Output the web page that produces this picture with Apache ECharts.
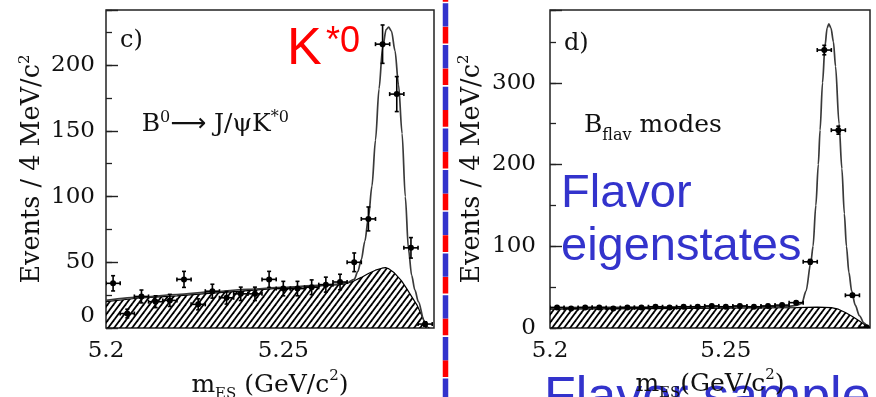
<!DOCTYPE html>
<html><head><meta charset="utf-8">
<script src="https://cdn.jsdelivr.net/npm/echarts@6/dist/echarts.min.js"></script>
<style>html,body{margin:0;padding:0;background:#fff}#c{width:876px;height:397px}</style>
</head><body><div id="c"></div><script>
// ---- data ----
const binCenters = [5.202,5.206,5.210,5.214,5.218,5.222,5.226,5.230,5.234,5.238,5.242,5.246,5.250,5.254,5.258,5.262,5.266,5.270,5.274,5.278,5.282,5.286,5.290];
const cCounts = [34,11,24,20,21,37,18,28,23,26,26,37,30,30,31,33,35,50,83,216,178,61,3];
const cErrors = [5.8,3.3,4.9,4.5,4.6,6.1,4.2,5.3,4.8,5.1,5.1,6.1,5.5,5.5,5.6,5.7,5.9,7.1,9.1,14.6,13.3,7.8,1.7];
const dCounts = [25,24,25,25,24,25,25,26,25,26,26,27,26,27,26,27,28,31,81,340,242,40,1];
const dErrors = [1.6,1.6,1.6,1.6,1.6,1.6,1.6,1.6,1.6,1.6,1.6,1.6,1.6,1.6,1.6,1.6,1.7,1.8,2.8,5.8,4.9,2.0,0.3];
const cFit = [[5.200,21],[5.210,23.5],[5.220,25.5],[5.230,27.5],[5.240,29.5],[5.250,31],[5.260,32.5],[5.266,33.5],[5.268,34.5],[5.270,37],[5.271,43],[5.272,52],[5.273,66],[5.274,84],[5.275,108],[5.276,143],[5.277,182],[5.278,213],[5.279,227],[5.2797,229],[5.2805,226],[5.2815,211],[5.2825,185],[5.2835,148],[5.2844,100],[5.2853,60],[5.2862,40],[5.2871,29],[5.2881,20],[5.2897,5.5],[5.2907,0]];
const cBackground = [[5.200,20],[5.205,21.5],[5.210,23],[5.220,24.5],[5.230,26.5],[5.240,28.5],[5.250,30.5],[5.260,32],[5.266,33],[5.268,34],[5.270,36],[5.272,38.5],[5.274,41.5],[5.276,44],[5.2778,45.5],[5.2788,46],[5.2798,45],[5.2813,42],[5.2833,36],[5.2848,30],[5.2863,23.5],[5.2878,17],[5.2893,8],[5.2905,1],[5.2912,0]];
const dFit = [[5.200,25],[5.230,25.5],[5.260,26],[5.268,26.5],[5.270,27.5],[5.2716,30],[5.2728,45],[5.2742,81],[5.2748,100],[5.2756,150],[5.2763,200],[5.2768,242],[5.2775,300],[5.2782,345],[5.2788,367],[5.2793,372],[5.2799,367],[5.2806,350],[5.2812,320],[5.2822,250],[5.2830,195],[5.2837,140],[5.2843,100],[5.2850,68],[5.2858,45],[5.2868,28],[5.2880,15],[5.2893,6],[5.2904,0]];
const dBackground = [[5.200,23],[5.240,24],[5.270,25],[5.276,25.5],[5.280,25],[5.282,23],[5.284,19],[5.286,14],[5.288,8.5],[5.2895,4],[5.2905,0]];
const xMin = 5.2, xStep = 0.05, cXMax = 5.2925, dXMax = 5.291;
const cYMax = 242, cYStep = 50, cYMinor = 25;
const dYMax = 389, dYStep = 100, dYMinor = 50;

const SERIF = 'DejaVu Serif', SANS = 'Liberation Sans';
const INK = '#111';

function hatch(){
  const w=6,h=8; const cv=document.createElement('canvas'); cv.width=w; cv.height=h;
  const g=cv.getContext('2d'); g.strokeStyle='#000'; g.lineWidth=1.8;
  for(const o of [-w,0,w]){ g.beginPath(); g.moveTo(o-w,2*h); g.lineTo(o+2*w,-h); g.stroke(); }
  return cv;
}
const hatchImg = hatch();

function pts(counts, errs){ return binCenters.map((x,i)=>[x,counts[i],errs[i]]); }
function renderErr(params, api){
  const x=api.value(0), y=api.value(1), e=api.value(2), hw=0.002;
  const p=api.coord([x,y]), l=api.coord([x-hw,y]), r=api.coord([x+hw,y]);
  const t=api.coord([x,y+e]), b=api.coord([x,y-e]);
  const st={stroke:'#000', lineWidth:1.6}; const cap=2;
  return {type:'group', children:[
    {type:'line', shape:{x1:l[0],y1:p[1],x2:r[0],y2:p[1]}, style:st},
    {type:'line', shape:{x1:l[0],y1:p[1]-cap,x2:l[0],y2:p[1]+cap}, style:st},
    {type:'line', shape:{x1:r[0],y1:p[1]-cap,x2:r[0],y2:p[1]+cap}, style:st},
    {type:'line', shape:{x1:p[0],y1:t[1],x2:p[0],y2:b[1]}, style:st},
    {type:'line', shape:{x1:p[0]-cap,y1:t[1],x2:p[0]+cap,y2:t[1]}, style:st},
    {type:'line', shape:{x1:p[0]-cap,y1:b[1],x2:p[0]+cap,y2:b[1]}, style:st},
    {type:'circle', shape:{cx:p[0],cy:p[1],r:3}, style:{fill:'#000'}}
  ]};
}

const supRich = {s:{fontFamily:SERIF,fontSize:15,verticalAlign:'top',lineHeight:15,color:INK},
                 b:{fontFamily:SERIF,fontSize:15,verticalAlign:'bottom',lineHeight:15,color:INK}};
function xAxis(grid, max, gap, name){
  return {gridIndex:grid, type:'value', min:xMin, max:max, interval:xStep,
    axisLine:{show:false}, axisTick:{show:false}, splitLine:{show:false},
    axisLabel:{fontFamily:SERIF, fontSize:23, color:INK, margin:12,
      formatter:v=>Math.abs(v/xStep-Math.round(v/xStep))<1e-6?String(Math.round(v*100)/100):''},
    name:name, nameLocation:'middle', nameGap:gap,
    nameTextStyle:{fontFamily:SERIF, fontSize:25, color:INK, lineHeight:33, rich:supRich}};
}
function yAxis(grid, max, step, margin, gap, minAlign){
  return {gridIndex:grid, type:'value', min:0, max:max, interval:step,
    axisLine:{show:false}, splitLine:{show:false},
    axisTick:{inside:true, length:12, lineStyle:{color:'#222', width:1.4}},
    axisLabel:{fontFamily:SERIF, fontSize:23, color:INK, margin:margin, verticalAlignMinLabel:minAlign,
      formatter:v=>Math.abs(v/step-Math.round(v/step))<1e-6?String(v):''},
    name:'Events / 4 MeV/c{s|2}', nameLocation:'middle', nameRotate:90, nameGap:gap,
    nameTextStyle:{fontFamily:SERIF, fontSize:25.5, color:INK, lineHeight:30, rich:supRich}};
}
function yMinor(grid, max, step){
  return {gridIndex:grid, type:'value', min:0, max:max, interval:step, position:'left',
    axisLine:{show:false}, splitLine:{show:false}, axisLabel:{show:false},
    axisTick:{inside:true, length:6, lineStyle:{color:'#222', width:1.3}}};
}

const chart = echarts.init(document.getElementById('c'), null, {renderer:'canvas'});
chart.setOption({
  animation:false, backgroundColor:'#fff',
  grid:[
    {left:106, top:10, width:328, height:318, show:true, borderColor:'#222', borderWidth:1.5, outerBoundsMode:'none', containLabel:false},
    {left:550, top:10, width:320, height:318, show:true, borderColor:'#222', borderWidth:1.5, outerBoundsMode:'none', containLabel:false}
  ],
  xAxis:[ xAxis(0, cXMax, 40.5, 'm{b|ES} (GeV/c{s|2})'), xAxis(1, dXMax, 37, 'm{b|ES}(GeV/c{s|2})') ],
  yAxis:[ yAxis(0, cYMax, cYStep, 11, 56, 'bottom'), yMinor(0, cYMax, cYMinor),
          yAxis(1, dYMax, dYStep, 14, 63, 'middle'), yMinor(1, dYMax, dYMinor) ],
  series:[
    {type:'line', xAxisIndex:0, yAxisIndex:0, data:cBackground, symbol:'none', z:1,
     lineStyle:{color:'#000', width:1.2}, areaStyle:{color:{image:hatchImg, repeat:'repeat'}, opacity:1}},
    {type:'line', xAxisIndex:0, yAxisIndex:0, data:cFit, symbol:'none', z:3, smooth:0.3, smoothMonotone:'x',
     lineStyle:{color:'#3a3a3a', width:1.7}},
    {type:'custom', xAxisIndex:0, yAxisIndex:0, data:pts(cCounts,cErrors), renderItem:renderErr, z:4, clip:true,
     encode:{x:0,y:1}},
    {type:'line', xAxisIndex:1, yAxisIndex:2, data:dBackground, symbol:'none', z:1,
     lineStyle:{color:'#000', width:1.2}, areaStyle:{color:{image:hatchImg, repeat:'repeat'}, opacity:1}},
    {type:'line', xAxisIndex:1, yAxisIndex:2, data:dFit, symbol:'none', z:3, smooth:0.3, smoothMonotone:'x',
     lineStyle:{color:'#3a3a3a', width:1.7}},
    {type:'custom', xAxisIndex:1, yAxisIndex:2, data:pts(dCounts,dErrors), renderItem:renderErr, z:4, clip:true,
     encode:{x:0,y:1}}
  ],
  graphic:[
    {type:'text', x:120, y:40.7, z:10, style:{text:'c)', fontFamily:SERIF, fontSize:24, fill:INK, verticalAlign:'middle'}},
    {type:'text', x:564, y:44, z:10, style:{text:'d)', fontFamily:SERIF, fontSize:24, fill:INK, verticalAlign:'middle'}},
    {type:'text', x:549, y:-5.6, z:10, style:{text:'x10', fontFamily:SERIF, fontSize:22, fill:INK, verticalAlign:'middle'}},
    {type:'text', x:141.7, y:109.4, z:10, style:{text:'{n|B}{s|0}{a|⟶}{n| J/ψK}{s|*0}', verticalAlign:'top',
      rich:{n:{fontFamily:SERIF,fontSize:25,lineHeight:30,fill:INK},
            a:{fontFamily:'DejaVu Sans',fontSize:25,lineHeight:30,fill:INK},
            s:{fontFamily:SERIF,fontSize:16,lineHeight:16,verticalAlign:'top',fill:INK}}}},
    {type:'text', x:584, y:107.4, z:10, style:{text:'{n|B}{b|flav}{n| modes}', verticalAlign:'top',
      rich:{n:{fontFamily:SERIF,fontSize:25,lineHeight:36,fill:INK}, b:{fontFamily:SERIF,fontSize:16,lineHeight:16,verticalAlign:'bottom',fill:INK}}}},
    {type:'text', x:544, y:399, z:-1, style:{text:'Flavor sample', fontFamily:SANS, fontSize:52, fill:'#3333CC', verticalAlign:'middle'}},
    {type:'text', x:561, y:194, z:20, style:{text:'Flavor', fontFamily:SANS, fontSize:47, fill:'#3333CC', verticalAlign:'middle'}},
    {type:'text', x:561, y:247, z:20, style:{text:'eigenstates', fontFamily:SANS, fontSize:47, fill:'#3333CC', verticalAlign:'middle'}},
    {type:'text', x:287, y:49.7, z:20, style:{text:'K', fontFamily:SANS, fontSize:52, fill:'#FF0000', verticalAlign:'middle'}},
    {type:'text', x:326, y:42.3, z:20, style:{text:'*0', fontFamily:SANS, fontSize:36, fill:'#FF0000', verticalAlign:'middle'}},
    {type:'line', z:20, shape:{x1:445.5, y1:-15, x2:445.5, y2:410}, style:{stroke:'#FF0000', lineWidth:5.5, lineDash:[16.7,25]}},
    {type:'line', z:21, shape:{x1:445.5, y1:-38.4, x2:445.5, y2:410}, style:{stroke:'#3333CC', lineWidth:5.5, lineDash:[23.3,18.4]}}
  ]
});
</script></body></html>
